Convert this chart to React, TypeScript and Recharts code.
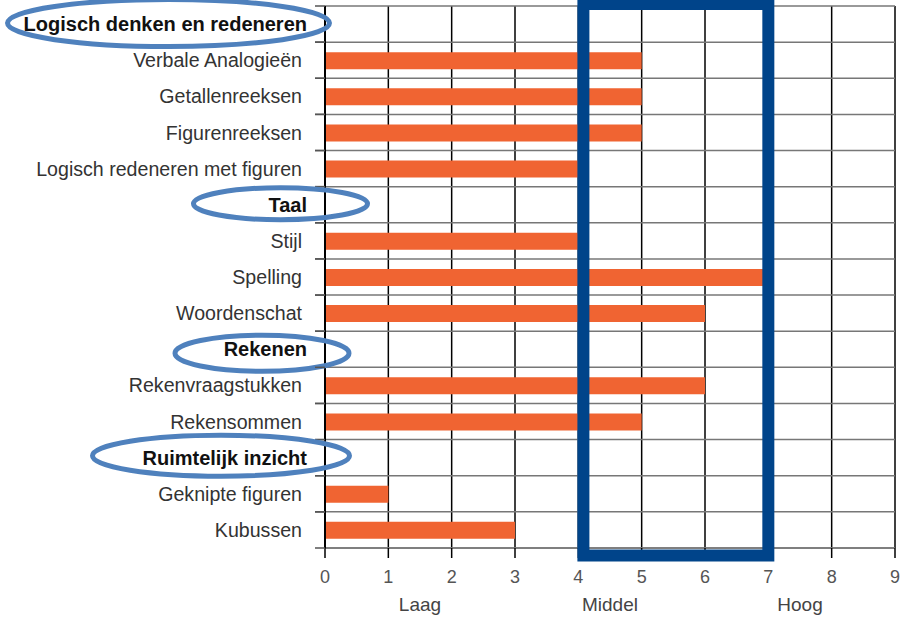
import React from 'react';
import {
  BarChart,
  Bar,
  XAxis,
  YAxis,
  CartesianGrid,
  ReferenceArea,
  ReferenceLine,
} from 'recharts';

// ---------- data ----------
const categories = [
  'Logisch denken en redeneren',
  'Verbale Analogieën',
  'Getallenreeksen',
  'Figurenreeksen',
  'Logisch redeneren met figuren',
  'Taal',
  'Stijl',
  'Spelling',
  'Woordenschat',
  'Rekenen',
  'Rekenvraagstukken',
  'Rekensommen',
  'Ruimtelijk inzicht',
  'Geknipte figuren',
  'Kubussen',
];
const scores: (number | null)[] = [null, 5, 5, 5, 4, null, 4, 7, 6, null, 6, 5, null, 1, 3];
const headers = ['Logisch denken en redeneren', 'Taal', 'Rekenen', 'Ruimtelijk inzicht'];
const xTicks = [0, 1, 2, 3, 4, 5, 6, 7, 8, 9];
const bandLabels = ['Laag', 'Middel', 'Hoog'];
const bandCenters = [1.5, 4.5, 7.5];
const middleRange = [4.08, 7];

const data = categories.map((name, i) => ({ name, score: scores[i] }));

// ---------- styles ----------
const FONT = '"Liberation Sans", Arial, sans-serif';
const ORANGE = '#F06432';
const NAVY = '#00448A';
const ELLIPSE_BLUE = '#4F81BD';

// hand-drawn ellipse annotations around the section headers (relative to tick anchor)
const ellipseStyle: Record<string, { dx: number; dy: number; rx: number; ry: number }> = {
  'Logisch denken en redeneren': { dx: -133.5, dy: -1, rx: 161, ry: 23.5 },
  Taal: { dx: -21.5, dy: -1, rx: 87, ry: 16 },
  Rekenen: { dx: -40, dy: 4, rx: 87, ry: 18 },
  'Ruimtelijk inzicht': { dx: -81, dy: -2, rx: 128.5, ry: 20.5 },
};

const YTick = (props: any) => {
  const { x, y, payload } = props;
  const label: string = payload.value;
  const isHeader = headers.includes(label);
  const half = payload.offset ?? 18;
  const e = ellipseStyle[label];
  return (
    <g>
      <line x1={x + 13} x2={x + 23} y1={y - half} y2={y - half} stroke="#555" strokeWidth={1.5} />
      <line x1={x + 13} x2={x + 23} y1={y + half} y2={y + half} stroke="#555" strokeWidth={1.5} />
      <text
        x={isHeader ? x + 5 : x}
        y={y}
        dy="0.36em"
        textAnchor="end"
        fontFamily={FONT}
        fontSize={isHeader ? 20 : 19.6}
        fontWeight={isHeader ? 'bold' : 'normal'}
        fill={isHeader ? '#111' : '#333'}
      >
        {label}
      </text>
      {e && (
        <ellipse
          cx={x + e.dx}
          cy={y + e.dy}
          rx={e.rx}
          ry={e.ry}
          fill="none"
          stroke={ELLIPSE_BLUE}
          strokeWidth={5}
        />
      )}
    </g>
  );
};

const MiddleBox = (props: any) => {
  const { x, y, width, height } = props;
  return (
    <rect
      x={x}
      y={y - 2}
      width={width}
      height={height + 9.5}
      fill="none"
      stroke={NAVY}
      strokeWidth={12}
    />
  );
};

export default function App() {
  return (
    <div style={{ position: 'absolute', left: 0, top: 0 }}>
      <BarChart
        width={910}
        height={618}
        data={data}
        layout="vertical"
        margin={{ top: 6, right: 15, bottom: 30, left: 0 }}
        barSize={17}
      >
        <CartesianGrid horizontal={false} vertical stroke="#000" strokeWidth={1.5} />
        <CartesianGrid
          vertical={false}
          horizontal
          stroke="#777"
          strokeWidth={1.5}
          horizontalCoordinatesGenerator={({ offset }: any) =>
            [...categories, ''].map((_, k) => offset.top + (k * offset.height) / categories.length)
          }
        />
        <XAxis
          type="number"
          domain={[0, 9]}
          ticks={xTicks}
          interval={0}
          height={40}
          axisLine={{ stroke: '#777', strokeWidth: 1.5 }}
          tickLine={{ stroke: '#000', strokeWidth: 1.5 }}
          tickSize={10}
          tickMargin={12}
          tick={{ fontSize: 18, fill: '#555', fontFamily: FONT }}
        />
        <YAxis
          type="category"
          dataKey="name"
          width={325}
          interval={0}
          axisLine={{ stroke: '#000', strokeWidth: 2 }}
          tickLine={false}
          tickSize={0}
          tickMargin={23}
          tick={<YTick />}
        />
        <Bar dataKey="score" fill={ORANGE} isAnimationActive={false} />
        {bandLabels.map((lbl, i) => (
          <ReferenceLine
            key={lbl}
            x={bandCenters[i]}
            stroke="none"
            ifOverflow="visible"
            label={{
              value: lbl,
              position: 'bottom',
              offset: 50,
              fill: '#444',
              fontSize: 19,
              fontFamily: FONT,
            }}
          />
        ))}
        <ReferenceArea
          x1={middleRange[0]}
          x2={middleRange[1]}
          ifOverflow="visible"
          shape={<MiddleBox />}
          zIndex={900}
        />
      </BarChart>
    </div>
  );
}
